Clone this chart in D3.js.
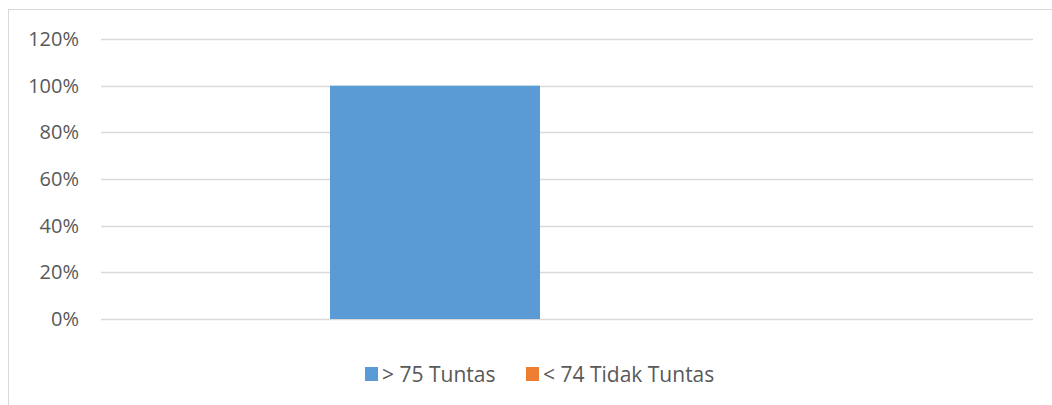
<!DOCTYPE html>
<html>
<head>
	<meta charset="utf-8">
	<title>Tuntas</title>
	<style>
		body { margin: 0; background: #fff; }
		text { font-family: "Open Sans", sans-serif; fill: #595959; }
	</style>
</head>
<body>
	<script src="https://d3js.org/d3.v7.min.js"></script>
	<script>
var categories = [''];
var seriesNames = ['> 75 Tuntas', '< 74 Tidak Tuntas'];
var seriesColors = ['#5B9BD5', '#ED7D31'];
var values = [[1.0, 0.0]];
var yTicks = [0, 0.2, 0.4, 0.6, 0.8, 1.0, 1.2];

var width = 1052, height = 405;
var svg = d3.select('body').append('svg')
			.attr('width', width)
			.attr('height', height);

// outer frame (left and top edges only visible)
svg.append('line').attr('x1', 8.5).attr('x2', 8.5).attr('y1', 9).attr('y2', height).attr('stroke', '#d9d9d9');
svg.append('line').attr('x1', 8).attr('x2', width).attr('y1', 9.5).attr('y2', 9.5).attr('stroke', '#d9d9d9');

var plotLeft = 101, plotRight = 1033;

var y = d3.scaleLinear().domain([0, 1.2]).range([319, 39]);

var x0 = d3.scaleBand().domain(categories).range([plotLeft, plotRight]);
var x1 = d3.scaleBand().domain(seriesNames).range([229, 649]);

// gridlines
svg.append('g').selectAll('line').data(yTicks).enter()
	.append('line')
	.attr('x1', plotLeft).attr('x2', plotRight)
	.attr('y1', function(d) { return Math.round(y(d)) + 0.5; })
	.attr('y2', function(d) { return Math.round(y(d)) + 0.5; })
	.attr('stroke', '#d9d9d9')
	.attr('stroke-width', 1.3);

// y axis labels
var yAxis = d3.axisLeft(y).tickValues(yTicks).tickSize(0).tickPadding(0)
	.tickFormat(function(d) { return Math.round(d * 100) + '%'; });
var ya = svg.append('g').attr('transform', 'translate(79,0)').call(yAxis);
ya.select('.domain').remove();
ya.selectAll('text').style('font-size', '20px').attr('fill', '#595959').attr('font-family', '"Open Sans", sans-serif');

// bars
categories.forEach(function(c, ci) {
	svg.append('g').selectAll('rect').data(values[ci]).enter()
		.append('rect')
		.attr('x', function(d, i) { return x0(c) + x1(seriesNames[i]); })
		.attr('width', x1.bandwidth())
		.attr('y', function(d) { return y(d); })
		.attr('height', function(d) { return y(0) - y(d); })
		.attr('fill', function(d, i) { return seriesColors[i]; });
});

// legend
var legendX = [365, 526];
var lg = svg.append('g').selectAll('g').data(seriesNames).enter()
	.append('g')
	.attr('transform', function(d, i) { return 'translate(' + legendX[i] + ',367)'; });
lg.append('rect').attr('width', 13).attr('height', 14)
	.attr('fill', function(d, i) { return seriesColors[i]; });
lg.append('text').attr('x', 17).attr('y', 15)
	.style('font-size', '21px')
	.text(function(d) { return d; });
	</script>
</body>
</html>
